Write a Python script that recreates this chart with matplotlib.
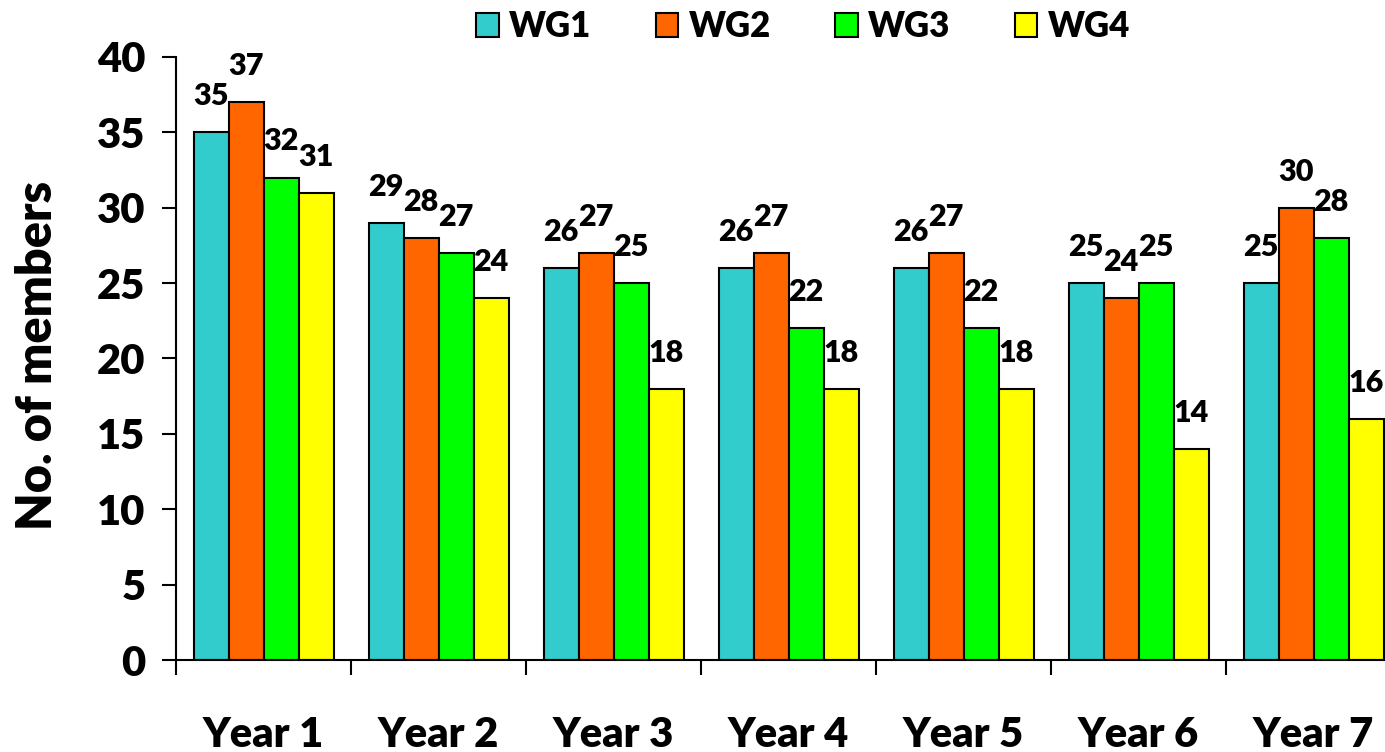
import numpy as np
import matplotlib
matplotlib.use("Agg")
import matplotlib.pyplot as plt

plt.rcParams['font.family'] = ['Lato', 'DejaVu Sans']
plt.rcParams['font.weight'] = 'heavy'

# data
years = ['Year 1', 'Year 2', 'Year 3', 'Year 4', 'Year 5', 'Year 6', 'Year 7']
groups = ['WG1', 'WG2', 'WG3', 'WG4']
wg1 = [35, 29, 26, 26, 26, 25, 25]
wg2 = [37, 28, 27, 27, 27, 24, 30]
wg3 = [32, 27, 25, 22, 22, 25, 28]
wg4 = [31, 24, 18, 18, 18, 14, 16]
colors = ['#33CCCC', '#FF6600', '#00FF00', '#FFFF00']

fig = plt.figure(figsize=(13.85, 7.52), dpi=100)
# axes runs a bit past the right edge, like the cropped original
ax = fig.add_axes([176 / 1385, 1 - 660 / 752, 1225 / 1385, (660 - 57) / 752])

x = np.arange(len(years)) + 0.5
w = 0.2
for k, (vals, col, name) in enumerate(zip([wg1, wg2, wg3, wg4], colors, groups)):
    pos = x + (k - 1.5) * w
    ax.bar(pos, vals, w, color=col, edgecolor='black', linewidth=1.5, label=name)
    for px, v in zip(pos, vals):
        ax.annotate(str(v), (px, v), xytext=(0, 26), textcoords='offset points',
                    ha='center', va='center', fontsize=22, fontweight='heavy')

ax.set_xlim(0, len(years))
ax.set_ylim(0, 40)
ax.set_yticks(range(0, 41, 5))
ax.tick_params(axis='y', labelsize=30, length=10, width=1.5, pad=12)

# ticks at group borders, labels at centres
ax.set_xticks(np.arange(len(years) + 1))
ax.set_xticklabels([])
ax.set_xticks(x, minor=True)
ax.set_xticklabels(years, minor=True)
ax.tick_params(axis='x', which='major', length=11, width=1.5)
ax.tick_params(axis='x', which='minor', length=0, labelsize=30, pad=40)

for s in ['top', 'right']:
    ax.spines[s].set_visible(False)
for s in ['left', 'bottom']:
    ax.spines[s].set_linewidth(1.5)

fig.text(38 / 1385, 1 - 355 / 752, 'No. of members', rotation=90,
         ha='center', va='center', fontsize=35, fontweight='heavy')

fig.legend(loc='upper center', bbox_to_anchor=(803 / 1385, 1.005), ncol=4,
           frameon=False, fontsize=25, handlelength=0.65, handleheight=0.65,
           handletextpad=0.3, columnspacing=1.85, borderaxespad=0)

fig.savefig('out.png', dpi=100)
